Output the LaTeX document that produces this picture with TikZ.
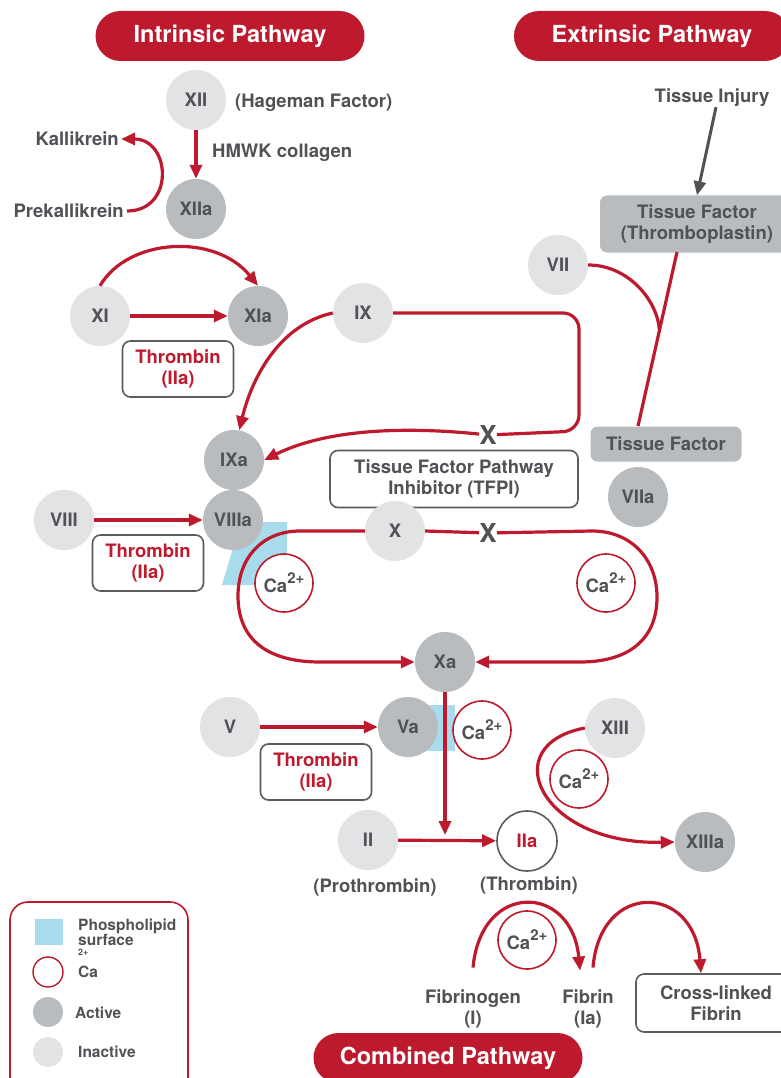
\documentclass[tikz,border=0pt]{standalone}
\usepackage{fontspec}
\setmainfont{TeX Gyre Heros}
\usetikzlibrary{arrows.meta,calc}
\definecolor{cred}{RGB}{190,26,46}
\definecolor{ctext}{RGB}{80,82,86}
\definecolor{cinact}{RGB}{226,227,229}
\definecolor{cact}{RGB}{185,188,191}
\definecolor{cblue}{RGB}{168,220,236}
\definecolor{cbox}{RGB}{90,92,96}
\newcommand{\catwo}{Ca\raisebox{9pt}{\fontsize{15}{15}\selectfont 2+}}
\begin{document}
\begin{tikzpicture}[x=1pt,y=-1pt,
  fac/.style={circle,minimum size=60pt,inner sep=0pt,text=ctext,font=\bfseries\fontsize{18.5}{20}\selectfont},
  inact/.style={fac,fill=cinact},
  act/.style={fac,fill=cact},
  caion/.style={fac,draw=cred,line width=1.6pt,fill=white,minimum size=58pt},
  flow/.style={draw=cred,line width=3.2pt,-{Triangle[length=14pt,width=12pt]}},
  flowline/.style={draw=cred,line width=3.2pt},
  txt/.style={text=ctext,font=\bfseries\fontsize{18.5}{21}\selectfont,align=center,inner sep=0pt},
  pill/.style={fill=cred,rounded corners=25pt,minimum height=50pt,text=white,font=\bfseries\fontsize{23.5}{24}\selectfont},
  thrombox/.style={txt,text=cred,draw=cbox,line width=1.6pt,rounded corners=8pt,minimum width=111pt,minimum height=56pt},
  greybox/.style={txt,fill=cact,rounded corners=7pt},
  xmark/.style={text=ctext,font=\bfseries\fontsize{26}{26}\selectfont,inner sep=0pt},
  legtxt/.style={text=ctext,font=\bfseries\fontsize{15.5}{15}\selectfont,anchor=west,align=left,inner sep=0pt}]
\useasboundingbox (0,0) rectangle (781,1078);

\fill[cblue] (222,585) -- (233,548) -- (248,522) -- (287,522) -- (287,585) -- cycle;
\fill[cblue] (420,705) rectangle (455,751);

\node[pill,minimum width=269pt] (intr) at (230,36) {Intrinsic Pathway};
\node[pill,minimum width=276pt] (extr) at (652,36) {Extrinsic Pathway};
\node[pill,minimum width=269pt] (comb) at (448,1058) {Combined Pathway};

\node[inact] (xii) at (196,100) {XII};
\node[txt,anchor=west] (hag) at (235,103) {(Hageman Factor)};
\node[act] (xiia) at (196,209) {XIIa};
\node[txt,anchor=west] (hmwk) at (212,152.5) {HMWK collagen};
\node[txt,anchor=east] (kal) at (119,139) {Kallikrein};
\node[txt,anchor=east] (prekal) at (124,211) {Prekallikrein};
\node[inact] (xi) at (100,316) {XI};
\node[act] (xia) at (258,316) {XIa};
\node[thrombox] (thr1) at (178,369) {Thrombin\\(IIa)};
\node[inact] (ix) at (363,313) {IX};
\node[act] (ixa) at (234,460) {IXa};
\node[xmark] (xm1) at (488,435) {X};
\node[txt,draw=cbox,line width=1.6pt,rounded corners=8pt,minimum width=248pt,minimum height=57pt] (tfpi) at (454,479) {Tissue Factor Pathway\\Inhibitor (TFPI)};
\node[inact] (viii) at (64,520) {VIII};
\node[act] (viiia) at (233,520) {VIIIa};
\node[thrombox] (thr2) at (148,563) {Thrombin\\(IIa)};
\node[inact] (x) at (395,531) {X};
\node[xmark] (xm2) at (488,533) {X};
\node[act] (xa) at (445,662) {Xa};
\node[caion] (ca1) at (284,583) {\catwo};
\node[caion] (ca2) at (606,583) {\catwo};

\node[txt] (injury) at (712,98) {Tissue Injury};
\node[greybox,minimum width=194pt,minimum height=57pt] (tfbig) at (697,224) {Tissue Factor\\(Thromboplastin)};
\node[inact] (vii) at (558,265) {VII};
\node[greybox,minimum width=151pt,minimum height=35pt] (tf) at (666,444) {Tissue Factor};
\node[act] (viia) at (638,497) {VIIa};

\node[inact] (v) at (230,727) {V};
\node[act] (va) at (408,727) {Va};
\node[caion] (ca3) at (482,730) {\catwo};
\node[thrombox] (thr3) at (316,772) {Thrombin\\(IIa)};
\node[inact] (ii) at (368,840) {II};
\node[txt] (prothr) at (375,887) {(Prothrombin)};
\node[fac,fill=white,draw=cbox,line width=1.6pt,text=cred] (iia) at (527,841) {IIa};
\node[txt] (thromb) at (529,885) {(Thrombin)};
\node[inact] (xiii) at (615,728) {XIII};
\node[act] (xiiia) at (705,842) {XIIIa};
\node[caion] (ca4) at (579,779) {\catwo};
\node[caion] (ca5) at (527,940) {\catwo};
\node[txt] (fgen) at (473,1009) {Fibrinogen\\(I)};
\node[txt] (fib) at (588,1009) {Fibrin\\(Ia)};
\node[txt,draw=cbox,line width=1.6pt,rounded corners=8pt,minimum width=160pt,minimum height=58pt] (xlink) at (716,1003) {Cross-linked\\Fibrin};

\draw[flow] (xii) -- (xiia);
\draw[flow] ([xshift=3pt]prekal.east) .. controls +(48,0) and +(50,0) .. ([xshift=2pt]kal.east);
\draw[flow] (xi) -- (xia);
\draw[flow] (xi.north) .. controls +(28,-48) and +(-43,-53) .. (xia.north);
\draw[flow] (ix.west) .. controls +(-55,12) and +(12,-50) .. (ixa.80);
\draw[flowline,rounded corners=16pt] (ix.east) -| (579,431) -- (xm1);
\draw[flow] (xm1) .. controls (400,426) and (325,430) .. (ixa.east);
\draw[flow] (viii) -- (viiia);
\draw[flow] (x.west) -- (300,531) .. controls (262,531) and (238,558) .. (238,596) .. controls (238,640) and (268,662) .. (320,662) -- (xa.west);
\draw[flowline] (x.east) -- (xm2);
\draw[flow] (xm2) -- (592,531) .. controls (632,531) and (657,560) .. (657,597) .. controls (657,640) and (628,662) .. (580,662) -- (xa.east);

\coordinate (tftop) at (677,252);
\coordinate (tfbot) at (638,426);
\coordinate (merge) at ($(tftop)!0.45!(tfbot)$);
\draw[flowline] (tftop) -- (tfbot);
\draw[flowline] (vii.east) .. controls +(40,0) and +(-2,-30) .. (merge);
\draw[draw=ctext,line width=3pt,-{Triangle[length=14pt,width=12pt]}] ([xshift=4pt]injury.south) -- (tfbig.north);

\coordinate (xadown) at (445,835);
\draw[flow] (v) -- (va);
\draw[flow] (xa) -- (xadown);
\draw[flow] (ii) -- (iia);
\draw[flow] (xiii.west) .. controls +(-90,17) and +(-135,3) .. (xiiia.west);
\draw[flow] ([yshift=22pt]fgen.north) .. controls +(8,-87) and +(-8,-87) .. ([xshift=-8pt,yshift=19pt]fib.north);
\draw[flow] ([xshift=5pt,yshift=22pt]fib.north) .. controls +(7,-87) and +(-7,-90) .. ([xshift=-15pt]xlink.north);

\draw[cred,line width=1.6pt,rounded corners=18pt] (10,902) rectangle (188,1100);
\fill[cblue] (35,919) rectangle (63,945);
\node[legtxt] (lgphos) at (78,932) {Phospholipid\\surface};
\node[legtxt,font=\bfseries\fontsize{9}{9}\selectfont] (lgsup) at (78,952) {2+};
\node[circle,draw=cred,line width=1.4pt,minimum size=30pt] (lgca) at (48,972) {};
\node[legtxt] (lgcat) at (78,972) {Ca};
\node[circle,fill=cact,minimum size=30pt] (lgact) at (48,1012) {};
\node[legtxt] (lgactt) at (75,1013) {Active};
\node[circle,fill=cinact,minimum size=30pt] (lginact) at (48,1052) {};
\node[legtxt] (lginactt) at (78,1052) {Inactive};
\end{tikzpicture}
\end{document}
